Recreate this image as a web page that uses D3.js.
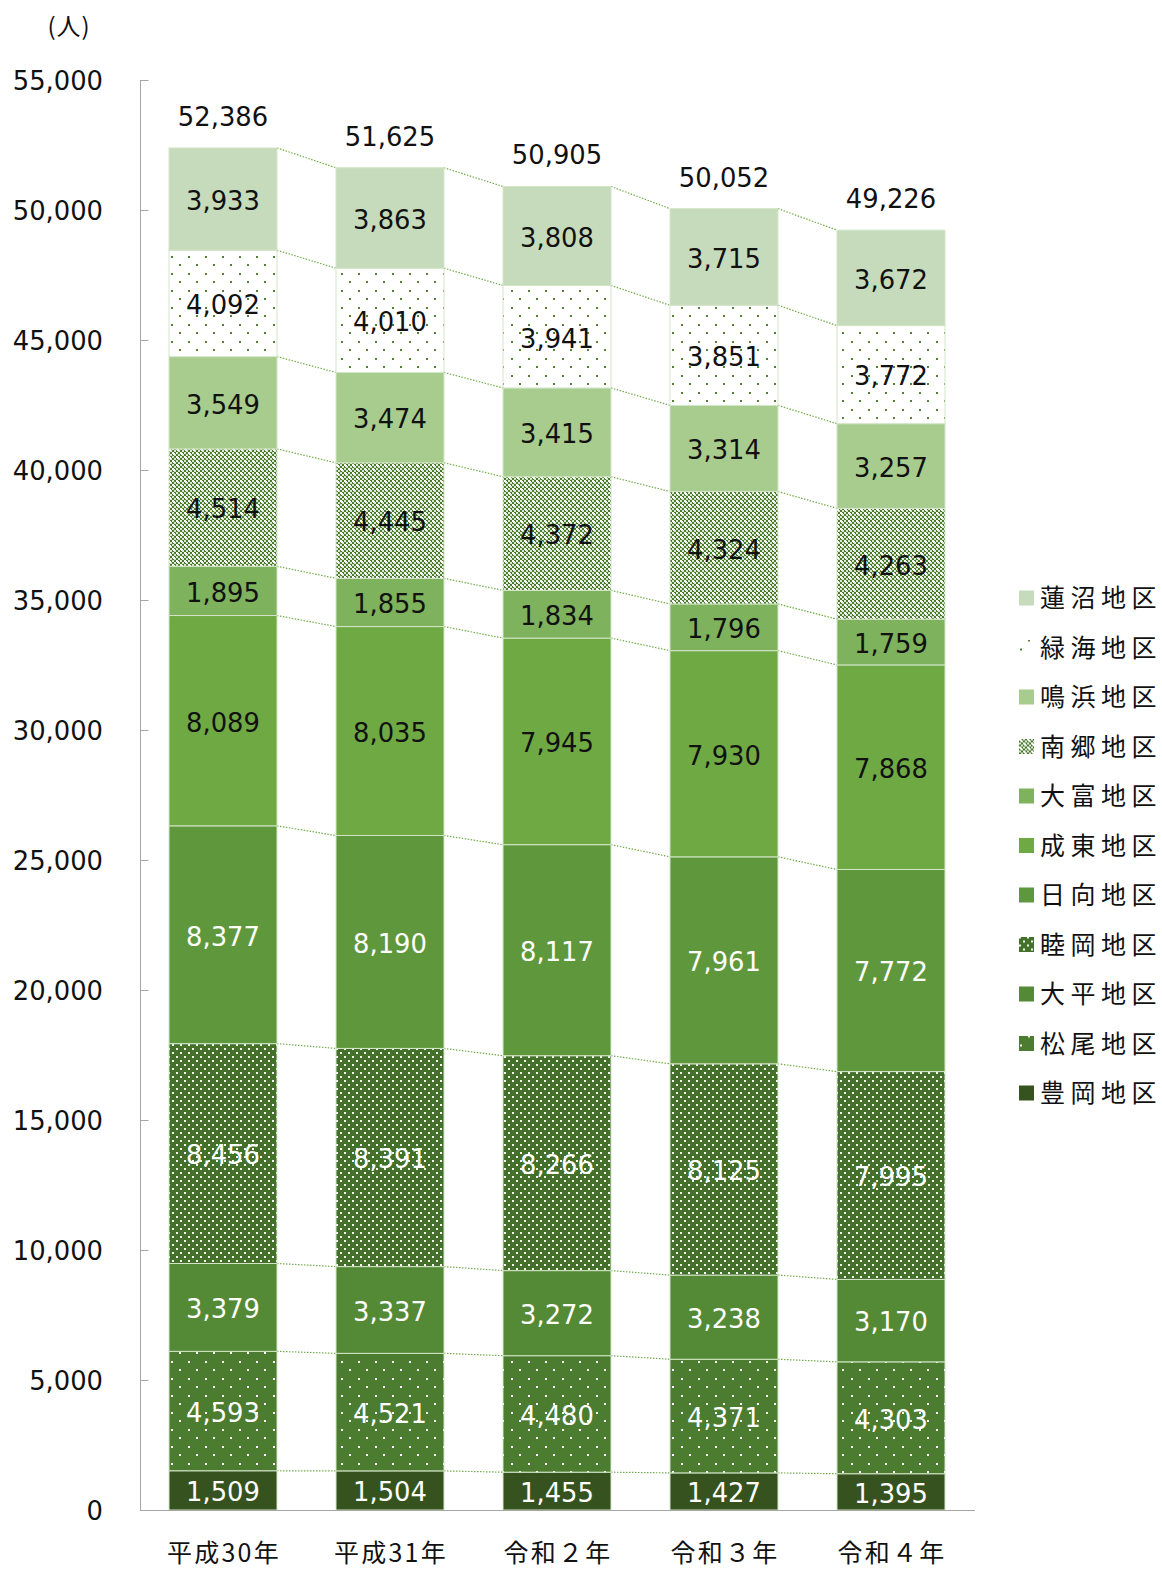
<!DOCTYPE html>
<html lang="ja">
<head>
<meta charset="utf-8">
<title>地区別人口の推移</title>
<script src="https://cdn.jsdelivr.net/npm/d3@7/dist/d3.min.js"></script>
<style>
  html, body { margin: 0; padding: 0; background: #fff; }
  svg { display: block; }
  .num { font-family: "DejaVu Sans", Verdana, sans-serif; font-size: 25.8px; }
  .jp { font-family: "Noto Sans CJK JP", sans-serif; }
</style>
</head>
<body>
<svg id="chart" width="1162" height="1569"></svg>
<script>
// 年度
const years = ["平成30年", "平成31年", "令和２年", "令和３年", "令和４年"];

// 地区別人口（下から積み上げる順）
const toyooka   = [1509, 1504, 1455, 1427, 1395];
const matsuo    = [4593, 4521, 4480, 4371, 4303];
const ohira     = [3379, 3337, 3272, 3238, 3170];
const mutsuoka  = [8456, 8391, 8266, 8125, 7995];
const hinata    = [8377, 8190, 8117, 7961, 7772];
const narutou   = [8089, 8035, 7945, 7930, 7868];
const otomi     = [1895, 1855, 1834, 1796, 1759];
const nango     = [4514, 4445, 4372, 4324, 4263];
const naruhama  = [3549, 3474, 3415, 3314, 3257];
const midorikai = [4092, 4010, 3941, 3851, 3772];
const hasunuma  = [3933, 3863, 3808, 3715, 3672];

// 合計
const totals = [52386, 51625, 50905, 50052, 49226];

// 縦軸目盛
const yTicks = [0, 5000, 10000, 15000, 20000, 25000, 30000, 35000, 40000, 45000, 50000, 55000];

const districtNames = ["豊岡地区", "松尾地区", "大平地区", "睦岡地区", "日向地区", "成東地区",
                       "大富地区", "南郷地区", "鳴浜地区", "緑海地区", "蓮沼地区"];
const districtValues = [toyooka, matsuo, ohira, mutsuoka, hinata, narutou,
                        otomi, nango, naruhama, midorikai, hasunuma];

const fills = ["#36531f", "url(#pMatsuo)", "#548a35", "url(#pMutsuoka)", "#5f983c", "#6fa944",
               "#7eb25d", "url(#pNango)", "#a8cc8e", "url(#pMidori)", "#c6dbbc"];
const labelColors = ["#fff", "#fff", "#fff", "#fff", "#fff", "#111",
                     "#111", "#111", "#111", "#111", "#111"];

const svg = d3.select("#chart");
const fmt = d3.format(",");

// 塗りパターン
const defs = svg.append("defs");
function dotPattern(id, bg, fg, size, dots) {
  const p = defs.append("pattern").attr("id", id)
    .attr("patternUnits", "userSpaceOnUse").attr("width", size).attr("height", size);
  p.append("rect").attr("width", size).attr("height", size).attr("fill", bg);
  dots.forEach(([x, y, c]) => p.append("rect").attr("x", x).attr("y", y)
    .attr("width", 2).attr("height", 2).attr("fill", c || fg));
}
dotPattern("pMidori", "#ffffff", "#548235", 17, [[1, 1], [9, 9]]);
dotPattern("pMatsuo", "#4c7c2f", "#ffffff", 17, [[1, 1], [9, 9]]);
dotPattern("pMutsuoka", "#43712a", "#f4f8f0", 8, [[0, 0], [4, 4]]);
dotPattern("pNango", "#4a7a2e", "#dbe8d2", 8, [
  [0, 0, "#ffffff"], [4, 0], [2, 2], [6, 2], [0, 4], [4, 4, "#ffffff"], [2, 6], [6, 6],
  [1, 1, "#ffffff"], [5, 5, "#ffffff"]
]);

// 尺度
const x = d3.scaleBand().domain(years).range([140, 974]).paddingInner(0.3533).paddingOuter(0.1737);
const y = d3.scaleLinear().domain([0, 55000]).range([1510, 80]);

// 積み上げデータ
const table = years.map((yr, i) => {
  const row = { year: yr };
  districtNames.forEach((d, k) => { row[d] = districtValues[k][i]; });
  return row;
});
const series = d3.stack().keys(districtNames)(table);

// 系列線（各区分の上端を棒の間で結ぶ）
const linkG = svg.append("g");
series.forEach(s => {
  for (let i = 0; i < years.length - 1; i++) {
    linkG.append("line")
      .attr("x1", x(years[i]) + x.bandwidth()).attr("y1", y(s[i][1]))
      .attr("x2", x(years[i + 1])).attr("y2", y(s[i + 1][1]))
      .attr("stroke", "#70ad47").attr("stroke-width", 1.2)
      .attr("stroke-dasharray", "1.5,1.5");
  }
});

// 棒
const barG = svg.append("g");
series.forEach((s, k) => {
  barG.selectAll(null).data(s).join("rect")
    .attr("x", d => x(d.data.year))
    .attr("y", d => y(d[1]))
    .attr("width", x.bandwidth())
    .attr("height", d => y(d[0]) - y(d[1]))
    .attr("fill", fills[k])
    .attr("stroke", "#d3e5c8").attr("stroke-width", 1);
});

// データラベル
series.forEach((s, k) => {
  svg.append("g").selectAll("text").data(s).join("text")
    .attr("class", "num")
    .attr("x", d => x(d.data.year) + x.bandwidth() / 2)
    .attr("y", d => (y(d[0]) + y(d[1])) / 2)
    .attr("dy", "0.42em")
    .attr("text-anchor", "middle")
    .attr("fill", labelColors[k])
    .text(d => fmt(d.data[s.key]));
});

// 合計ラベル
svg.append("g").selectAll("text").data(years).join("text")
  .attr("class", "num")
  .attr("x", d => x(d) + x.bandwidth() / 2)
  .attr("y", (d, i) => y(totals[i]) - 22)
  .attr("text-anchor", "middle")
  .attr("fill", "#111")
  .text((d, i) => fmt(totals[i]));

// 縦軸
const yAxis = svg.append("g").attr("transform", "translate(140.5,0)")
  .call(d3.axisRight(y).tickValues(yTicks).tickSize(8).tickFormat(""));
yAxis.select(".domain").attr("stroke", "#a6a6a6").attr("d", `M0,${y(55000)}V${y(0)}`);
yAxis.selectAll(".tick line").attr("stroke", "#a6a6a6");

svg.append("g").selectAll("text").data(yTicks).join("text")
  .attr("class", "num")
  .attr("x", 103)
  .attr("y", d => y(d))
  .attr("dy", "0.38em")
  .attr("text-anchor", "end")
  .attr("fill", "#111")
  .text(d => fmt(d));

// 横軸
const xAxis = svg.append("g").attr("transform", "translate(0,1510.5)")
  .call(d3.axisBottom(x).tickSize(0).tickFormat(""));
xAxis.select(".domain").attr("stroke", "#a6a6a6").attr("d", "M140,0H975");

svg.append("g").selectAll("text").data(years).join("text")
  .attr("class", "jp")
  .attr("x", d => x(d) + x.bandwidth() / 2 + 1)
  .attr("y", 1562)
  .attr("text-anchor", "middle")
  .attr("font-size", 25)
  .attr("letter-spacing", 2.2)
  .attr("fill", "#111")
  .text(d => d);

// 単位
svg.append("text").attr("class", "jp")
  .attr("x", 69).attr("y", 35)
  .attr("text-anchor", "middle")
  .attr("font-size", 24)
  .attr("letter-spacing", 1)
  .attr("fill", "#111")
  .text("(人)");

// 凡例（上から蓮沼地区）
const legendItems = districtNames.map((n, k) => ({ name: n, fill: fills[k] })).reverse();
const legend = svg.append("g").selectAll("g").data(legendItems).join("g")
  .attr("transform", (d, i) => `translate(1019,${598 + i * 49.5})`);
legend.append("rect")
  .attr("x", 0).attr("y", -7.5).attr("width", 15).attr("height", 15)
  .attr("fill", d => d.fill);
legend.append("text")
  .attr("class", "jp")
  .attr("x", 21).attr("y", 0).attr("dy", "0.36em")
  .attr("font-size", 25)
  .attr("letter-spacing", 5.5)
  .attr("fill", "#111")
  .text(d => d.name);
</script>
</body>
</html>
